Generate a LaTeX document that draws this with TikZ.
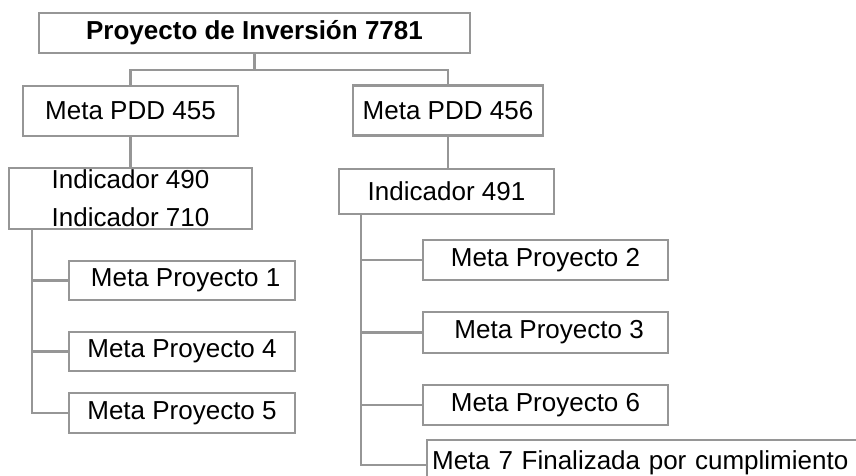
\documentclass[tikz,border=0pt]{standalone}
\usepackage{fontspec}
\setmainfont{Liberation Sans}
\definecolor{boxgray}{RGB}{150,150,150}
\tikzset{
  box/.style={draw=boxgray, line width=2.2pt, fill=white, inner sep=0pt, align=center,
    font=\fontsize{26}{38}\selectfont, text=black},
  link/.style={draw=boxgray, line width=2.2pt}
}
\begin{document}
\begin{tikzpicture}[x=1pt,y=-1pt]
\useasboundingbox (0,0) rectangle (856,476);
\clip (0,0) rectangle (856,476);
\node[box, minimum width=431pt, minimum height=40pt, font=\fontsize{26}{38}\selectfont\bfseries] (top) at (254.5,33) {Proyecto de Inversión 7781};
\node[box, minimum width=215pt, minimum height=50pt] (m455) at (130.5,111) {Meta PDD 455};
\node[box, minimum width=190pt, minimum height=50pt] (m456) at (448,110.5) {Meta PDD 456};
\node[box, minimum width=243pt, minimum height=61pt] (ind1) at (130.5,198.5) {Indicador 490\\Indicador 710};
\node[box, minimum width=215pt, minimum height=45pt] (ind2) at (446.5,191.5) {Indicador 491};
\node[box, minimum width=226pt, minimum height=39pt] (mp1) at (182,280.5) {\ Meta Proyecto 1};
\node[box, minimum width=226pt, minimum height=39pt] (mp4) at (182,351.5) {Meta Proyecto 4};
\node[box, minimum width=226pt, minimum height=40pt] (mp5) at (182,413) {Meta Proyecto 5};
\node[box, minimum width=245pt, minimum height=40pt] (mp2) at (545.5,260) {Meta Proyecto 2};
\node[box, minimum width=245pt, minimum height=41pt] (mp3) at (545.5,332.5) {\ Meta Proyecto 3};
\node[box, minimum width=245pt, minimum height=40pt] (mp6) at (545.5,405) {Meta Proyecto 6};
\node[box, anchor=north west, text width=434pt, align=left, inner xsep=5pt, minimum height=46pt] (m7) at (426,439) {Meta 7 Finalizada por cumplimiento};
% connectors
\coordinate (j) at ([yshift=-16pt]top.south);
\draw[link] (top.south) -- (j) -| (m455.north);
\draw[link] (j) -| (m456.north);
\draw[link] (m455.south) -- (ind1.north);
\draw[link] (m456.south) -- (m456.south |- ind2.north);
\coordinate (t1) at ([xshift=24pt]ind1.south west);
\draw[link] (t1) |- (mp1.west);
\draw[link] (t1) |- (mp4.west);
\draw[link] (t1) |- (mp5.west);
\coordinate (t2) at ([xshift=23pt]ind2.south west);
\draw[link] (t2) |- (mp2.west);
\draw[link] (t2) |- (mp3.west);
\draw[link] (t2) |- (mp6.west);
\draw[link] (t2) |- ([yshift=-2pt]m7.west);
\end{tikzpicture}
\end{document}
